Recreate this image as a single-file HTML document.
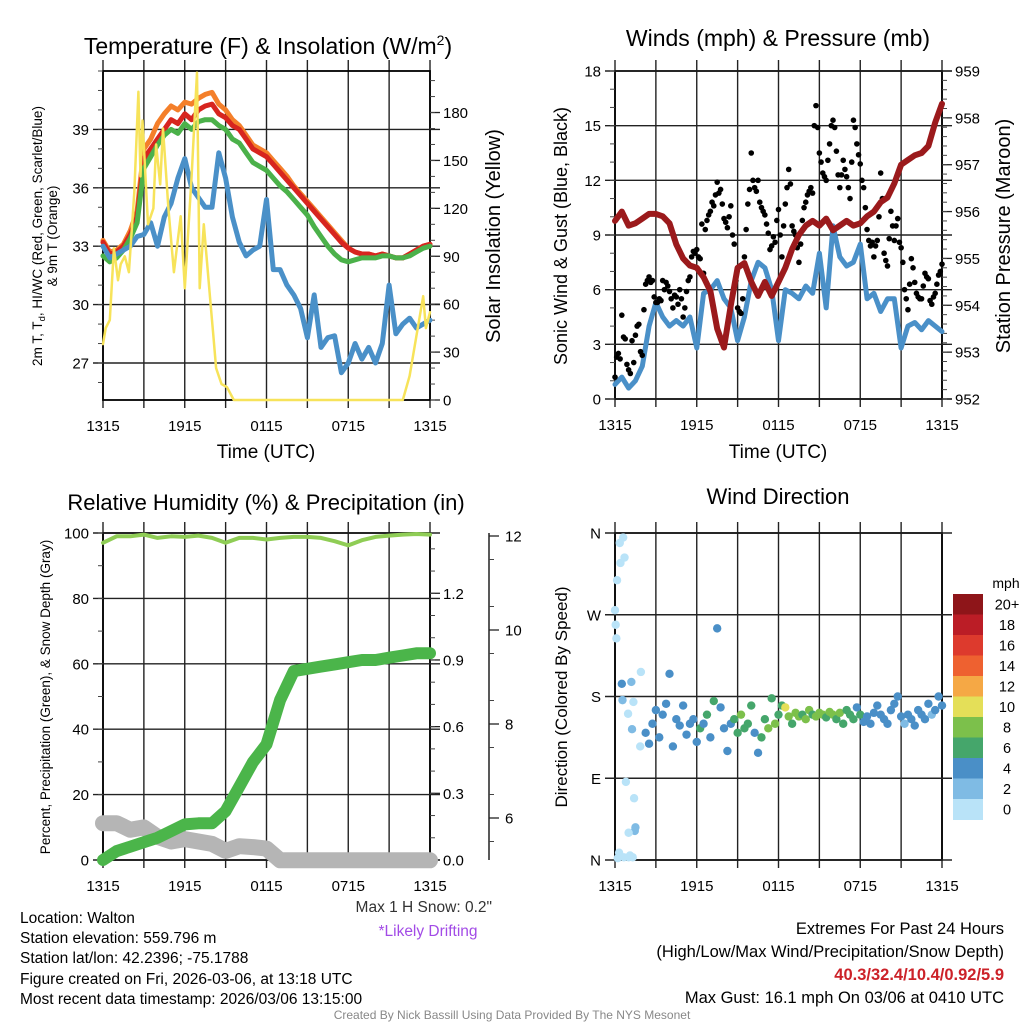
<!DOCTYPE html>
<html><head><meta charset="utf-8"><title>Mesonet Station Meteogram</title>
<style>
html,body{margin:0;padding:0;background:#fff;}
svg{display:block;font-family:"Liberation Sans",Arial,sans-serif;}
</style></head>
<body>
<svg id="chart" width="1024" height="1024" viewBox="0 0 1024 1024" xmlns="http://www.w3.org/2000/svg">
<rect x="0" y="0" width="1024" height="1024" fill="#fff"/>
<g id="layer"></g>

<text x="268" y="54" font-size="23" text-anchor="middle">Temperature (F) &amp; Insolation (W/m<tspan font-size="14" dy="-9">2</tspan><tspan dy="9">)</tspan></text>
<text x="778" y="46" font-size="23" text-anchor="middle">Winds (mph) &amp; Pressure (mb)</text>
<text x="266" y="510" font-size="22" text-anchor="middle">Relative Humidity (%) &amp; Precipitation (in)</text>
<text x="778" y="504" font-size="22" text-anchor="middle">Wind Direction</text>

<text x="266" y="458" font-size="19" text-anchor="middle">Time (UTC)</text>
<text x="778" y="458" font-size="19" text-anchor="middle">Time (UTC)</text>

<text transform="translate(42,236) rotate(-90)" font-size="13.5" text-anchor="middle">2m T, T<tspan font-size="9.5" dy="3">d</tspan><tspan dy="-3">, HI/WC (Red, Green, Scarlet/Blue)</tspan></text>
<text transform="translate(57,236) rotate(-90)" font-size="13.5" text-anchor="middle">&amp; 9m T (Orange)</text>
<text transform="translate(500,236) rotate(-90)" font-size="20" text-anchor="middle">Solar Insolation (Yellow)</text>
<text transform="translate(567,236) rotate(-90)" font-size="18" text-anchor="middle">Sonic Wind &amp; Gust (Blue, Black)</text>
<text transform="translate(1010,236) rotate(-90)" font-size="20" text-anchor="middle">Station Pressure (Maroon)</text>
<text transform="translate(50,697) rotate(-90)" font-size="13.5" text-anchor="middle">Percent, Precipitation (Green), &amp; Snow Depth (Gray)</text>
<text transform="translate(567,697) rotate(-90)" font-size="17" text-anchor="middle">Direction (Colored By Speed)</text>

<text x="1006" y="588" font-size="14" text-anchor="middle">mph</text>

<text x="492" y="912" font-size="15.5" fill="#333" text-anchor="end">Max 1 H Snow: 0.2"</text>
<text x="428" y="936" font-size="15.5" fill="#a24be6" text-anchor="middle">*Likely Drifting</text>

<g font-size="15.5">
<text x="20" y="923">Location: Walton</text>
<text x="20" y="943">Station elevation: 559.796 m</text>
<text x="20" y="963">Station lat/lon: 42.2396; -75.1788</text>
<text x="20" y="984">Figure created on Fri, 2026-03-06, at 13:18 UTC</text>
<text x="20" y="1004">Most recent data timestamp: 2026/03/06 13:15:00</text>
</g>
<g font-size="16.5" text-anchor="end">
<text x="1004" y="934">Extremes For Past 24 Hours</text>
<text x="1004" y="957">(High/Low/Max Wind/Precipitation/Snow Depth)</text>
<text x="1004" y="980" fill="#cc2229" font-weight="bold">40.3/32.4/10.4/0.92/5.9</text>
<text x="1004" y="1003">Max Gust: 16.1 mph On 03/06 at 0410 UTC</text>
</g>
<text x="512" y="1019" font-size="12" fill="#888" text-anchor="middle">Created By Nick Bassill Using Data Provided By The NYS Mesonet</text>
</svg>

<script>
// ---------------- DATA ----------------
const timeLabels = ["1315","1915","0115","0715","1315"];
const hours = []; for (let i = 0; i <= 48; i++) hours.push(i * 0.5);
const hoursHourly = []; for (let i = 0; i <= 24; i++) hoursHourly.push(i);
const hoursQuarter = []; for (let i = 0; i <= 96; i++) hoursQuarter.push(i * 0.25);
const hoursQuarterMid = []; for (let i = 0; i < 96; i++) hoursQuarterMid.push(i * 0.25 + 0.125);

const tempTicks = [27,30,33,36,39];
const solarTicks = [0,30,60,90,120,150,180];
const windTicks = [0,3,6,9,12,15,18];
const pressTicks = [952,953,954,955,956,957,958,959];
const rhTicks = [0,20,40,60,80,100];
const precipTicks = ["0.0","0.3","0.6","0.9","1.2"];
const snowTicks = [6,8,10,12];
const dirTicks = ["N","E","S","W","N"];
const speedBins = ["0","2","4","6","8","10","12","14","16","18","20+"];

const temp2m = [33.2,32.6,32.7,33.0,33.6,34.5,37.5,38.0,38.5,39.0,39.5,39.3,39.8,39.5,40.0,40.2,40.3,39.8,39.6,39.2,39.0,38.5,38.0,37.8,37.6,37.2,36.8,36.4,36.0,35.6,35.2,34.8,34.4,34.0,33.6,33.2,32.9,32.7,32.6,32.6,32.5,32.6,32.5,32.4,32.4,32.6,32.8,33.0,33.1];
const temp9m = [33.3,32.7,32.8,33.1,33.8,34.8,38.0,38.5,39.3,39.8,40.2,40.0,40.4,40.3,40.6,40.8,40.9,40.3,40.0,39.5,39.2,38.7,38.2,38.0,37.8,37.4,37.0,36.6,36.1,35.7,35.3,34.9,34.5,34.1,33.7,33.3,32.9,32.7,32.6,32.6,32.5,32.6,32.5,32.4,32.4,32.6,32.8,33.0,33.1];
const heatIndex = [32.5,32.2,32.4,32.8,33.4,34.2,37.0,37.6,38.2,38.7,39.0,38.8,39.3,39.0,39.4,39.5,39.5,39.2,39.0,38.5,38.3,37.8,37.3,37.1,36.9,36.5,36.1,35.8,35.4,35.0,34.6,34.0,33.5,33.0,32.6,32.3,32.2,32.3,32.4,32.4,32.4,32.5,32.5,32.4,32.4,32.5,32.7,32.9,33.0];
const dewpoint = [33.0,32.4,32.6,32.8,33.0,33.5,33.6,34.2,33.0,34.5,35.2,36.5,37.5,36.0,35.5,35.0,35.0,37.8,36.5,34.5,33.2,32.5,32.8,33.0,35.4,31.8,31.8,31.0,30.5,29.8,28.3,30.5,27.8,28.3,28.4,26.5,27.0,28.0,27.2,27.8,27.0,28.0,31.0,28.5,29.0,29.3,28.8,29.0,29.2];
const solarTimes = [0,0.2,0.5,0.8,1.1,1.3,1.6,1.9,2.3,2.6,2.75,2.9,3.3,3.7,3.9,4.2,4.4,4.8,5.2,5.7,6.0,6.5,6.9,7.1,7.4,7.9,8.1,8.3,8.7,9.1,9.6,12,18,22.0,22.5,23.0,23.5,23.7,24];
const solarValues = [35,45,50,95,75,85,90,80,130,193,140,175,110,120,160,135,170,120,80,115,70,140,205,70,110,60,40,20,10,8,0,0,0,0,15,40,65,45,55];

const windSpeed = [0.8,1.2,0.6,1.0,1.8,4.0,5.3,4.5,4.0,4.3,4.0,4.5,2.8,5.8,6.0,6.5,5.5,5.0,3.2,4.5,6.5,7.5,7.2,6.0,3.2,6.0,5.8,5.5,6.2,5.8,8.0,5.0,9.5,7.8,7.3,7.5,8.5,5.5,5.8,4.8,5.5,5.5,2.8,4.0,4.2,3.8,4.3,4.0,3.7];
const windGust = [1.2,2.5,4.6,3.3,1.6,3.2,3.5,4.1,2.4,6.3,6.7,6.5,5.3,5.5,6.5,6.4,5.9,5.0,5.6,6.0,4.5,5.9,6.7,8.1,8.2,7.7,6.9,9.8,10.3,10.6,11.9,11.5,9.9,9.4,10.6,8.5,5.0,4.7,7.8,10.7,13.5,11.6,12.0,10.5,10.1,9.1,8.4,8.6,10.4,7.8,10.7,12.6,9.5,9.0,7.5,9.8,10.8,11.4,11.3,16.1,13.5,12.4,12.0,14.0,15.3,13.6,11.6,13.1,12.2,11.0,15.3,14.0,12.9,11.6,9.3,8.4,7.8,8.7,12.4,8.0,7.3,10.3,8.7,9.9,8.3,6.0,4.9,7.7,6.4,5.6,5.5,6.9,6.6,5.2,5.8,6.8,7.4];
const windGustMid = [2.3,2.2,3.4,1.9,1.4,2.0,4.0,2.6,4.9,6.5,6.4,5.6,5.3,5.4,6.0,6.2,5.5,5.7,5.2,5.5,5.0,6.5,7.8,8.0,7.8,9.6,9.3,10.1,10.8,11.2,11.3,10.7,9.7,10.0,9.0,6.5,4.8,5.5,9.3,11.5,12.0,11.4,10.8,10.3,9.6,8.2,8.9,9.8,9.0,9.5,11.6,11.8,9.2,8.3,8.5,10.5,11.2,11.6,15.0,14.9,13.0,12.2,13.1,15.0,14.9,12.3,12.3,12.6,11.6,13.0,14.9,13.4,12.0,10.5,8.7,8.6,8.4,10.0,11.0,7.6,8.8,9.5,9.5,8.6,7.5,5.5,6.3,7.2,5.8,5.5,6.2,6.7,5.4,5.6,6.3,7.0];
const pressure = [955.8,956.0,955.7,955.75,955.85,955.95,955.95,955.9,955.75,955.3,955.0,954.85,954.8,954.6,954.3,953.5,953.1,954.0,954.8,954.9,954.5,954.2,954.5,954.2,954.5,954.8,955.2,955.5,955.7,955.8,955.7,955.85,955.6,955.7,955.8,955.7,955.75,955.9,956.0,956.2,956.3,956.6,957.0,957.1,957.2,957.25,957.4,957.9,958.3];

const relHumidity = [97,99,99,99.5,98.5,99,98.8,99.2,98.5,97,98.5,98.5,98,98.5,98.8,98.8,98.5,97.5,96.2,97.8,98.8,99.2,99.5,99.7,99.5];
const precip = [0,0.04,0.06,0.08,0.1,0.13,0.16,0.165,0.165,0.22,0.33,0.44,0.52,0.72,0.85,0.86,0.87,0.88,0.89,0.9,0.9,0.91,0.92,0.93,0.93];
const snowDepth = [5.89,5.89,5.75,5.8,5.6,5.5,5.55,5.5,5.45,5.3,5.4,5.38,5.35,5.1,5.1,5.1,5.1,5.1,5.1,5.1,5.1,5.1,5.1,5.1,5.1];

const dirTimes = [0,0.05,0.1,0.15,0.4,0.35,0.6,0.7,0.5,0.55,1.2,1.35,1.9,0.96,1.25,0.8,1.4,1.5,1.45,1.0,1.1,0.3,0.2,0.65,1.0,1.3,1.85];
const dirValues = [275,259,244,308,327,349,355,333,194,176,196,174,207,161,144,86,68,36,32,30,5,8,2,3,3,3,125];
const dirSpeeds = [1,1,1,1,1,1,1,1,4,3,3.5,1,1,1,3,1,1,3,3,1,1,1,1,1,1,1,1];
const dirTimes2 = []; for (let i = 9; i <= 96; i++) dirTimes2.push(i * 0.25);
const dirValues2 = [140,128,150,165,135,160,172,205,125,155,148,170,138,150,155,130,145,150,160,135,175,255,168,145,120,150,155,140,160,145,150,170,140,118,135,155,145,178,150,160,170,168,158,150,162,158,160,155,165,160,158,162,160,157,163,160,155,162,150,165,160,155,168,160,152,158,150,162,170,160,155,150,165,172,180,158,150,160,155,148,165,160,155,172,160,165,180,170];
const dirSpeeds2 = [4.5,4.5,4.5,4.5,4.5,4.5,4.5,4.5,4.5,4.5,4.5,4.5,4.5,4.5,4.5,5,6.5,5,6.5,5,6.5,4.5,4.5,5,4.5,5,6.5,7,8.5,7,6.5,7,4.5,5,6.5,7,8.5,7,8.5,7,6.5,10.5,8.5,7,8.5,8.5,7,8.5,8.5,7,8.5,8.5,8.5,7,8.5,8.5,7,8.5,6.5,7,6.5,6.5,4.5,6.5,4.5,4.5,4.5,4.5,4.5,4.5,4.5,4.5,4.5,4.5,4.5,4.5,3,4.5,4.5,4.5,4.5,4.5,4.5,4.5,3,4.5,4.5,4.5];
const binColors = ["#b9e3f8","#7fbbe4","#4a8fc7","#45a66b","#7cc04b","#e4df58","#f5a845","#ee6130","#dd3a2d","#bb1d26","#8e1519"];

// ---------------- HELPERS ----------------
const NS = "http://www.w3.org/2000/svg";
const layer = document.getElementById("layer");
function mk(tag, attrs, parent) {
  const e = document.createElementNS(NS, tag);
  for (const k in attrs) e.setAttribute(k, attrs[k]);
  (parent || layer).appendChild(e);
  return e;
}
function lin(d0, d1, r0, r1) { return v => r0 + (v - d0) * (r1 - r0) / (d1 - d0); }
function pathFrom(xs, ys, xf, yf) {
  return xs.map((t, i) => (i ? "L" : "M") + xf(t).toFixed(1) + "," + yf(ys[i]).toFixed(1)).join("");
}

function panelFrame(L, R, T, B, name) {
  const g = mk("g", {});
  
  
  const xs = lin(0, 24, L, R);
  for (let h = 0; h <= 24; h += 3) {
    const ln = mk("line", {x1: xs(h), x2: xs(h), y1: T - 11, y2: B + 8, stroke: "#222", "stroke-width": 1.4}, g);
    
    
  }
  for (let i = 0; i < timeLabels.length; i++) {
    const tx = mk("text", {x: xs(i * 6), y: B + 31, "font-size": 15, "text-anchor": "middle"}, g);
    tx.textContent = timeLabels[i];
    
    
  }
  const bx = mk("rect", {x: L, y: T, width: R - L, height: B - T, fill: "none", stroke: "#000", "stroke-width": 1.8}, g);
  
  
  return xs;
}
function yAxis(ticks, labels, ys, L, R, side, minorStep, lo, hi, name, grid) {
  const g = mk("g", {});
  
  
  ticks.forEach((v, i) => {
    const y = ys(v);
    if (grid) {
      const gl = mk("line", {x1: L - 10, x2: R + 10, y1: y, y2: y, stroke: "#222", "stroke-width": 1.4}, g);
      
      
    } else {
      const x0 = side === "left" ? L : R;
      const tk = mk("line", {x1: x0, x2: x0 + (side === "left" ? -10 : 10), y1: y, y2: y, stroke: "#222", "stroke-width": 1.3}, g);
      
      
    }
    const tx = mk("text", {x: side === "left" ? L - 14 : R + 13, y: y + 5.5, "font-size": 15, "text-anchor": side === "left" ? "end" : "start"}, g);
    tx.textContent = labels[i];
    
    
  });
  if (minorStep) {
    for (let v = Math.ceil(lo / minorStep) * minorStep; v <= hi; v += minorStep) {
      const y = ys(v);
      const x0 = side === "left" ? L : R;
      const mt = mk("line", {x1: x0, x2: x0 + (side === "left" ? -5 : 5), y1: y, y2: y, stroke: "#444", "stroke-width": 1}, g);
      
      
    }
  }
}
function seriesLine(xs, ys, xf, yf, color, w, name, cap) {
  const p = mk("path", {d: pathFrom(xs, ys, xf, yf), fill: "none", stroke: color, "stroke-width": w, "stroke-linejoin": "round", "stroke-linecap": cap || "round"});
  
  
  return p;
}
function speedColor(s) { return binColors[Math.min(10, Math.floor(s / 2))]; }

// ---------------- PANEL 1: Temperature ----------------
(function () {
  const L = 103, R = 430, T = 71, B = 400;
  const yT = lin(25.1, 42.0, B, T);
  const yS = lin(0, 206, B, T);
  const xs = panelFrame(L, R, T, B, "temperature");
  yAxis(tempTicks, tempTicks, yT, L, R, "left", 1, 25.1, 42, "temperature-left-axis", true);
  yAxis(solarTicks, solarTicks, yS, L, R, "right", 10, 0, 206, "solar-right-axis", false);
  seriesLine(hours, temp9m, xs, yT, "#f47f2a", 5, "temp-9m-line");
  seriesLine(hours, temp2m, xs, yT, "#d7251f", 5, "temp-2m-line");
  seriesLine(hours, heatIndex, xs, yT, "#4bb14a", 5, "heat-index-line");
  seriesLine(hours, dewpoint, xs, yT, "#4a90c8", 5, "dewpoint-line");
  seriesLine(solarTimes, solarValues, xs, yS, "#f7e35a", 2.5, "solar-line");
})();

// ---------------- PANEL 2: Winds & Pressure ----------------
(function () {
  const L = 615, R = 942, T = 71, B = 399;
  const yW = lin(0, 18, B, T);
  const yP = lin(952, 959, B, T);
  const xs = panelFrame(L, R, T, B, "winds");
  yAxis(windTicks, windTicks, yW, L, R, "left", 1, 0, 18, "wind-left-axis", true);
  yAxis(pressTicks, pressTicks, yP, L, R, "right", 0.2, 952, 959, "pressure-right-axis", false);
  seriesLine(hours, windSpeed, xs, yW, "#4a90c8", 5, "wind-speed-line");
  const gg = mk("g", {fill: "#000"});
  
  
  hoursQuarter.forEach((t, i) => {
    const c = mk("circle", {cx: xs(t), cy: yW(windGust[i]), r: 2.8}, gg);
    
    
  });
  hoursQuarterMid.forEach((t, i) => {
    const c = mk("circle", {cx: xs(t), cy: yW(windGustMid[i]), r: 2.8}, gg);
    
    
  });
  seriesLine(hours, pressure, xs, yP, "#9b1a1c", 6, "pressure-line");
})();

// ---------------- PANEL 3: RH & Precip ----------------
(function () {
  const L = 103, R = 430, T = 533, B = 860;
  const yR = lin(0, 100, B, T);
  const yPr = lin(0, 1.4712, B, T);
  const ySn = lin(6, 12, 818, 536);
  const xs = panelFrame(L, R, T, B, "humidity");
  yAxis(rhTicks, rhTicks, yR, L, R, "left", 10, 0, 100, "humidity-left-axis", true);
  yAxis(precipTicks.map(Number), precipTicks, yPr, L, R, "right", 0.1, 0, 1.47, "precip-right-axis", false);
  const ax = mk("line", {x1: 489, x2: 489, y1: T, y2: B, stroke: "#222", "stroke-width": 1.5});
  
  
  snowTicks.forEach(v => {
    const tk = mk("line", {x1: 489, x2: 499, y1: ySn(v), y2: ySn(v), stroke: "#222", "stroke-width": 1.3});
    
    
    const tx = mk("text", {x: 505, y: ySn(v) + 5.5, "font-size": 15});
    tx.textContent = v;
    
    
  });
  for (let v = 5.5; v <= 12; v += 1) {
    const mt = mk("line", {x1: 489, x2: 494, y1: ySn(v), y2: ySn(v), stroke: "#444", "stroke-width": 1});
    
    
  }
  seriesLine(hoursHourly, snowDepth, xs, ySn, "#b5b5b5", 16, "snow-depth-line");
  seriesLine(hoursHourly, precip, xs, yPr, "#4bb54a", 12, "precip-line");
  seriesLine(hoursHourly, relHumidity, xs, yR, "#8fcd55", 4, "humidity-line");
})();

// ---------------- PANEL 4: Wind direction ----------------
(function () {
  const L = 615, R = 942, T = 533, B = 860;
  const yD = lin(0, 360, B, T);
  const xs = panelFrame(L, R, T, B, "direction");
  const dirDeg = [0, 90, 180, 270, 360];
  yAxis(dirDeg, dirTicks, yD, L, R, "left", 0, 0, 360, "direction-left-axis", true);
  const g = mk("g", {});
  
  
  dirTimes.forEach((t, i) => {
    const c = mk("circle", {cx: xs(t), cy: yD(dirValues[i]), r: 4.2, fill: speedColor(dirSpeeds[i])}, g);
    
    
  });
  dirTimes2.forEach((t, i) => {
    const c = mk("circle", {cx: xs(t), cy: yD(dirValues2[i]), r: 4.2, fill: speedColor(dirSpeeds2[i])}, g);
    
    
  });
  const cb = mk("g", {});
  
  
  const top = 594, h = 20.5;
  for (let i = 0; i < speedBins.length; i++) {
    const k = speedBins.length - 1 - i;
    const r = mk("rect", {x: 953, y: top + i * h, width: 30, height: h + 0.5, fill: binColors[k]}, cb);
    
    
    const tx = mk("text", {x: 1007, y: top + i * h + h / 2 + 5, "font-size": 14.5, "text-anchor": "middle"}, cb);
    tx.textContent = speedBins[k];
    
    
  }
})();
</script>
</body></html>
